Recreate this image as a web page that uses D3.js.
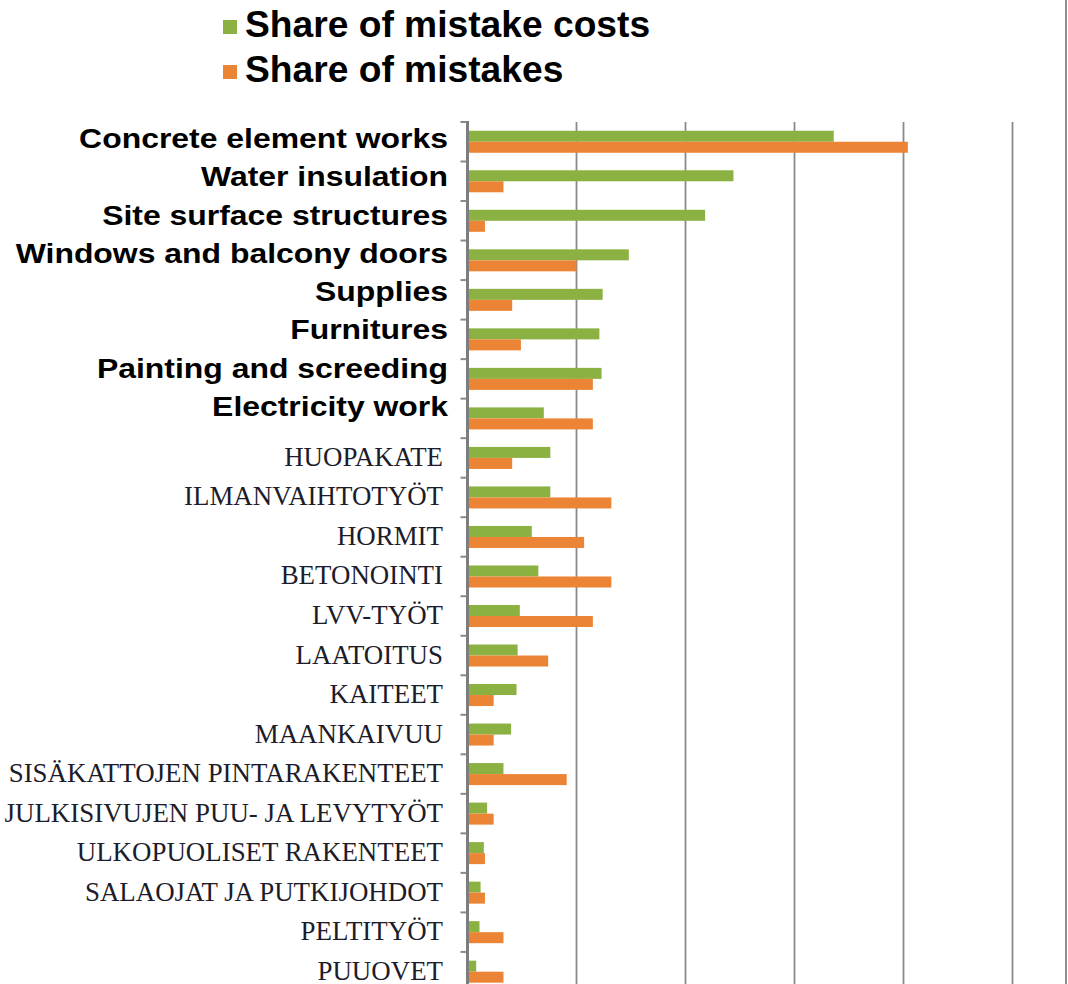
<!DOCTYPE html>
<html>
<head>
<meta charset="utf-8">
<script src="https://cdn.jsdelivr.net/npm/d3@7"></script>
<style>
  html, body { margin: 0; padding: 0; background: #fff; }
  svg { display: block; }
</style>
</head>
<body>
<svg id="chart" width="1068" height="984"></svg>
<script>
// Categories, top to bottom
const categories = [
  "Concrete element works",
  "Water insulation",
  "Site surface structures",
  "Windows and balcony doors",
  "Supplies",
  "Furnitures",
  "Painting and screeding",
  "Electricity work",
  "HUOPAKATE",
  "ILMANVAIHTOTYÖT",
  "HORMIT",
  "BETONOINTI",
  "LVV-TYÖT",
  "LAATOITUS",
  "KAITEET",
  "MAANKAIVUU",
  "SISÄKATTOJEN PINTARAKENTEET",
  "JULKISIVUJEN PUU- JA LEVYTYÖT",
  "ULKOPUOLISET RAKENTEET",
  "SALAOJAT JA PUTKIJOHDOT",
  "PELTITYÖT",
  "PUUOVET"
];

// Translated (English) labels are set in bold sans; the rest keep the original serif
const translatedCount = 8;

// Share of mistake costs (%)
const costShare = [
  16.8, 12.2, 10.9, 7.4, 6.2, 6.05, 6.15, 3.5,
  3.8, 3.8, 2.95, 3.25, 2.4, 2.3, 2.25, 2.0,
  1.65, 0.9, 0.75, 0.6, 0.55, 0.4
];

// Share of mistakes (%)
const mistakeShare = [
  20.2, 1.65, 0.8, 5.0, 2.05, 2.45, 5.75, 5.75,
  2.05, 6.6, 5.35, 6.6, 5.75, 3.7, 1.2, 1.2,
  4.55, 1.2, 0.8, 0.8, 1.65, 1.65
];

const seriesNames = ["Share of mistake costs", "Share of mistakes"];
const seriesColors = ["#8cb143", "#ec8435"];

const svg = d3.select("#chart");

const plotLeft = 467.5, plotRight = 1012.5;
const plotTop = 122, step = 39.52;
const plotBottom = plotTop + step * categories.length;

const x = d3.scaleLinear().domain([0, 25]).range([plotLeft, plotRight]);

const y = d3.scaleBand()
  .domain(categories)
  .range([plotTop, plotBottom])
  .paddingInner(0.443)
  .paddingOuter(0.2215);

const ySeries = d3.scaleBand()
  .domain(seriesNames)
  .range([0, y.bandwidth()]);

// Outer frame line on the right
svg.append("line")
  .attr("x1", 1066).attr("x2", 1066)
  .attr("y1", 0).attr("y2", 984)
  .attr("stroke", "#8f8f8f").attr("stroke-width", 2);

// Vertical gridlines
svg.append("g")
  .selectAll("line")
  .data(x.ticks(5).filter(d => d > 0))
  .join("line")
  .attr("x1", d => x(d)).attr("x2", d => x(d))
  .attr("y1", plotTop).attr("y2", plotBottom)
  .attr("stroke", "#8a8a8a").attr("stroke-width", 1.8);

// Bars
const rows = categories.map((c, i) => ({ cat: c, values: [costShare[i], mistakeShare[i]] }));

const groups = svg.append("g")
  .selectAll("g")
  .data(rows)
  .join("g")
  .attr("transform", d => `translate(0,${y(d.cat)})`);

groups.selectAll("rect")
  .data(d => d.values.map((v, k) => ({ v, k })))
  .join("rect")
  .attr("x", x(0))
  .attr("y", d => ySeries(seriesNames[d.k]))
  .attr("width", d => x(d.v) - x(0))
  .attr("height", ySeries.bandwidth())
  .attr("fill", d => seriesColors[d.k]);

// Category axis with tick marks between categories
const boundaries = d3.range(categories.length + 1).map(i => plotTop + i * y.step());
svg.append("g")
  .selectAll("line")
  .data(boundaries)
  .join("line")
  .attr("x1", plotLeft - 7).attr("x2", plotLeft)
  .attr("y1", d => d).attr("y2", d => d)
  .attr("stroke", "#8a8a8a").attr("stroke-width", 2);

svg.append("line")
  .attr("x1", plotLeft).attr("x2", plotLeft)
  .attr("y1", plotTop - 1).attr("y2", plotBottom)
  .attr("stroke", "#7d7d7d").attr("stroke-width", 3);

// Serif category labels
svg.append("g")
  .selectAll("text")
  .data(categories.slice(translatedCount))
  .join("text")
  .attr("x", 443)
  .attr("y", d => y(d) + y.bandwidth() / 2 + 8)
  .attr("text-anchor", "end")
  .attr("font-family", "'Liberation Serif', 'Times New Roman', serif")
  .attr("font-size", 26.9)
  .attr("fill", "#1c1c2a")
  .text(d => d);

// Bold translated labels
const yLabel = d3.scalePoint()
  .domain(categories.slice(0, translatedCount))
  .range([148, 416]);

svg.append("g")
  .selectAll("text")
  .data(categories.slice(0, translatedCount))
  .join("text")
  .attr("transform", d => `translate(448,${yLabel(d)}) scale(1.14,1)`)
  .attr("text-anchor", "end")
  .attr("font-family", "'Liberation Sans', Arial, sans-serif")
  .attr("font-weight", "bold")
  .attr("font-size", 28)
  .attr("fill", "#000")
  .text(d => d);

// Legend
const legend = svg.append("g")
  .selectAll("g")
  .data(seriesNames)
  .join("g")
  .attr("transform", (d, i) => `translate(223,${37 + i * 45})`);

legend.append("rect")
  .attr("x", 0).attr("y", -17)
  .attr("width", 14).attr("height", 14)
  .attr("fill", (d, i) => seriesColors[i]);

legend.append("text")
  .attr("x", 22).attr("y", 0)
  .attr("font-family", "'Liberation Sans', Arial, sans-serif")
  .attr("font-weight", "bold")
  .attr("font-size", 37.2)
  .attr("fill", "#000")
  .text(d => d);
</script>
</body>
</html>
